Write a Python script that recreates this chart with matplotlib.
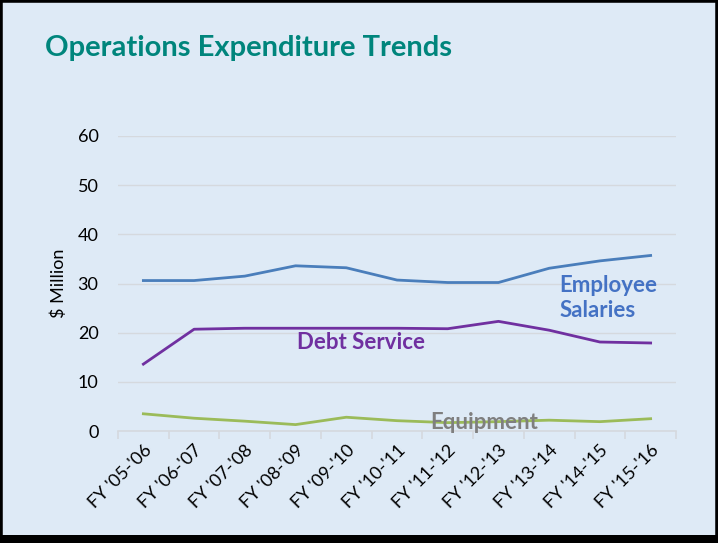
import matplotlib.pyplot as plt
from matplotlib.patches import Rectangle

years = ["FY '05-'06", "FY '06-'07", "FY '07-'08", "FY '08-'09", "FY '09-'10", "FY '10-'11",
         "FY '11-'12", "FY '12-'13", "FY '13-'14", "FY '14-'15", "FY '15-'16"]
salaries = [30.6, 30.6, 31.5, 33.6, 33.2, 30.7, 30.2, 30.2, 33.1, 34.6, 35.7]
debt = [13.6, 20.7, 20.9, 20.9, 20.9, 20.9, 20.8, 22.3, 20.5, 18.1, 17.9]
equipment = [3.5, 2.6, 2.0, 1.3, 2.8, 2.1, 1.7, 1.9, 2.2, 1.9, 2.5]

bg = '#DEEAF6'
plt.rcParams['font.family'] = ['Lato', 'DejaVu Sans']

fig = plt.figure(figsize=(7.18, 5.43), dpi=100, facecolor=bg)
ax = fig.add_axes([118 / 718, 1 - 431 / 543, 558 / 718, 295 / 543])
ax.set_facecolor(bg)

x = range(len(years))
ax.plot(x, salaries, color='#4A7EBB', lw=2)
ax.plot(x, debt, color='#7030A0', lw=2)
ax.plot(x, equipment, color='#9BBB59', lw=2)

ax.set_xlim(-0.5, len(years) - 0.5)
ax.set_ylim(0, 60)
ax.set_yticks(range(0, 61, 10))
ax.tick_params(axis='y', length=0, labelsize=13, pad=14)
ax.grid(axis='y', color='#D5D9DE', lw=1)
ax.set_axisbelow(True)
for s in ['top', 'right', 'left']:
    ax.spines[s].set_visible(False)
ax.spines['bottom'].set_color('#D5D9DE')
ax.spines['bottom'].set_linewidth(1.2)

# category ticks sit between categories, labels at centres
ax.set_xticks([i - 0.5 for i in range(len(years) + 1)], minor=False)
ax.set_xticklabels([])
ax.tick_params(axis='x', length=6, color='#D5D9DE', width=1.2)
ax.set_xticks(list(x), minor=True)
ax.set_xticklabels(years, minor=True, rotation=45, ha='right', rotation_mode='anchor', fontsize=13)
ax.tick_params(axis='x', which='minor', length=0, pad=8)

ax.set_ylabel('$ Million', fontsize=13, labelpad=8)

ax.text(8.2, 27, 'Employee\nSalaries', color='#4472C4', fontsize=16, fontweight='bold',
        va='center', ha='left', linespacing=1.25)
ax.text(3.03, 18.1, 'Debt Service', color='#7030A0', fontsize=16, fontweight='bold', va='center')
ax.text(5.65, 1.8, 'Equipment', color='#7F7F7F', fontsize=16, fontweight='bold', va='center')

fig.text(45 / 718, 1 - 48 / 543, 'Operations Expenditure Trends', color='#00857C',
         fontsize=21, fontweight='bold', va='center', ha='left')

# frame around the slide
fig.patches.append(Rectangle((0, 0), 1, 1, transform=fig.transFigure, fill=False,
                             edgecolor='black', lw=4))
fig.patches.append(Rectangle((0, 0), 1, 8 / 543, transform=fig.transFigure,
                             facecolor='black', edgecolor='none'))

fig.savefig('out.png', dpi=100, facecolor=bg)
